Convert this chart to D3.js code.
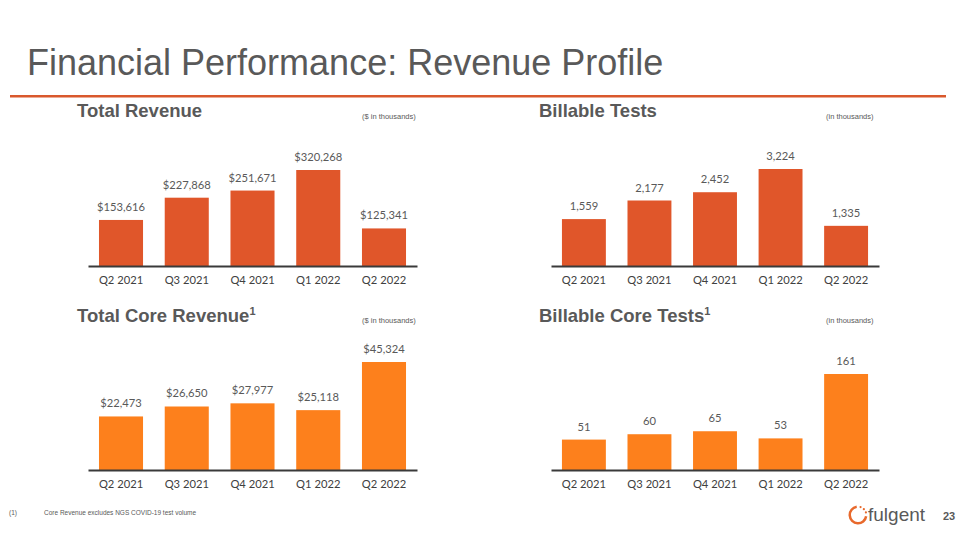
<!DOCTYPE html>
<html><head><meta charset="utf-8">
<script src="https://cdn.jsdelivr.net/npm/d3@7"></script>
<style>html,body{margin:0;padding:0;background:#fff;}svg{display:block;}</style>
</head><body>
<svg id="c" width="960" height="540"></svg>
<script>
const categories = ["Q2 2021","Q3 2021","Q4 2021","Q1 2022","Q2 2022"];
const totalRevenue = [153616, 227868, 251671, 320268, 125341];
const billableTests = [1559, 2177, 2452, 3224, 1335];
const coreRevenue = [22473, 26650, 27977, 25118, 45324];
const coreTests = [51, 60, 65, 53, 161];
const panelTitles = ["Total Revenue","Billable Tests","Total Core Revenue","Billable Core Tests"];
const unitNotes = ["($ in thousands)","(in thousands)","($ in thousands)","(in thousands)"];

const svg = d3.select("#c");
const GRAY = "#595959";
const RED = "#E0562A";
const ORANGE = "#FD801C";

svg.append("text").attr("x",27).attr("y",75)
  .attr("font-family","Liberation Sans, Arial, sans-serif").attr("font-size",36)
  .attr("fill",GRAY).text("Financial Performance: Revenue Profile");
svg.append("rect").attr("x",10).attr("y",95).attr("width",936).attr("height",2.5).attr("fill","#D9582C");

const fmtDollar = v => "$" + d3.format(",")(v);
const fmtNum = v => d3.format(",")(v);

const panels = [
  {data: totalRevenue, fmt: fmtDollar, x0: 88, x1: 417, base: 266, top: 170, color: RED, tx: 77, ty: 117, nx: 362, ny: 119, sup: false},
  {data: billableTests, fmt: fmtNum, x0: 551, x1: 879, base: 266, top: 169, color: RED, tx: 539, ty: 117, nx: 826, ny: 119, sup: false},
  {data: coreRevenue, fmt: fmtDollar, x0: 88, x1: 417, base: 470, top: 362, color: ORANGE, tx: 77, ty: 322, nx: 362, ny: 323, sup: true},
  {data: coreTests, fmt: fmtNum, x0: 551, x1: 879, base: 470, top: 374, color: ORANGE, tx: 539, ty: 322, nx: 826, ny: 323, sup: true}
];

panels.forEach((p, i) => {
  const t = svg.append("text").attr("x", p.tx).attr("y", p.ty)
    .attr("font-family","Liberation Sans, Arial, sans-serif").attr("font-weight","bold")
    .attr("font-size",18.5).attr("fill",GRAY);
  t.append("tspan").text(panelTitles[i]);
  if (p.sup) t.append("tspan").attr("font-size",11).attr("dy",-7).text("1");
  svg.append("text").attr("x", p.nx).attr("y", p.ny)
    .attr("font-family","Liberation Sans, Arial, sans-serif").attr("font-size",7.5)
    .attr("fill",GRAY).text(unitNotes[i]);

  const x = d3.scaleBand().domain(categories).range([p.x0, p.x1]).paddingInner(0.33).paddingOuter(0.167);
  const y = d3.scaleLinear().domain([0, d3.max(p.data)]).range([p.base, p.top]);
  const g = svg.append("g");
  g.selectAll("rect").data(p.data).join("rect")
    .attr("x", (d, j) => x(categories[j])).attr("width", x.bandwidth())
    .attr("y", d => y(d)).attr("height", d => p.base - y(d)).attr("fill", p.color);
  g.selectAll("text.v").data(p.data).join("text").attr("class","v")
    .attr("x", (d, j) => x(categories[j]) + x.bandwidth()/2).attr("y", d => y(d) - 9)
    .attr("text-anchor","middle").attr("font-family","Lato, Open Sans, sans-serif")
    .attr("font-size",11.2).attr("fill",GRAY).text(d => p.fmt(d));
  const ax = svg.append("g").attr("transform", `translate(0,${p.base})`)
    .call(d3.axisBottom(x).tickSize(0).tickPadding(10));
  ax.select(".domain").attr("stroke","#3a3a3a").attr("stroke-width",2);
  ax.selectAll("text").attr("font-family","Lato, Open Sans, sans-serif").attr("font-size",11.2).attr("fill","#404040");
});

// footnote
svg.append("text").attr("x",9).attr("y",515).attr("font-family","Liberation Sans, Arial, sans-serif")
  .attr("font-size",6.5).attr("fill",GRAY).text("(1)");
svg.append("text").attr("x",44).attr("y",515).attr("font-family","Liberation Sans, Arial, sans-serif")
  .attr("font-size",6.5).attr("fill",GRAY).text("Core Revenue excludes NGS COVID-19 test volume");

// logo
const lg = svg.append("g").attr("transform","translate(858,515)");
lg.append("path").attr("d", d3.arc()({innerRadius:7, outerRadius:9.5, startAngle: Math.PI*0.55, endAngle: Math.PI*1.95}))
  .attr("fill","#E8692C");
[0.1,0.25,0.4].forEach(a => {
  lg.append("circle").attr("cx", 8.3*Math.sin(a*Math.PI)).attr("cy", -8.3*Math.cos(a*Math.PI)).attr("r",1.1).attr("fill","#E8692C");
});
svg.append("text").attr("x",868).attr("y",521).attr("font-family","Liberation Sans, Arial, sans-serif")
  .attr("font-size",19).attr("fill",GRAY).text("fulgent");
svg.append("text").attr("x",943).attr("y",520).attr("font-family","Liberation Sans, Arial, sans-serif")
  .attr("font-size",11).attr("font-weight","bold").attr("fill",GRAY).text("23");
</script>
</body></html>
